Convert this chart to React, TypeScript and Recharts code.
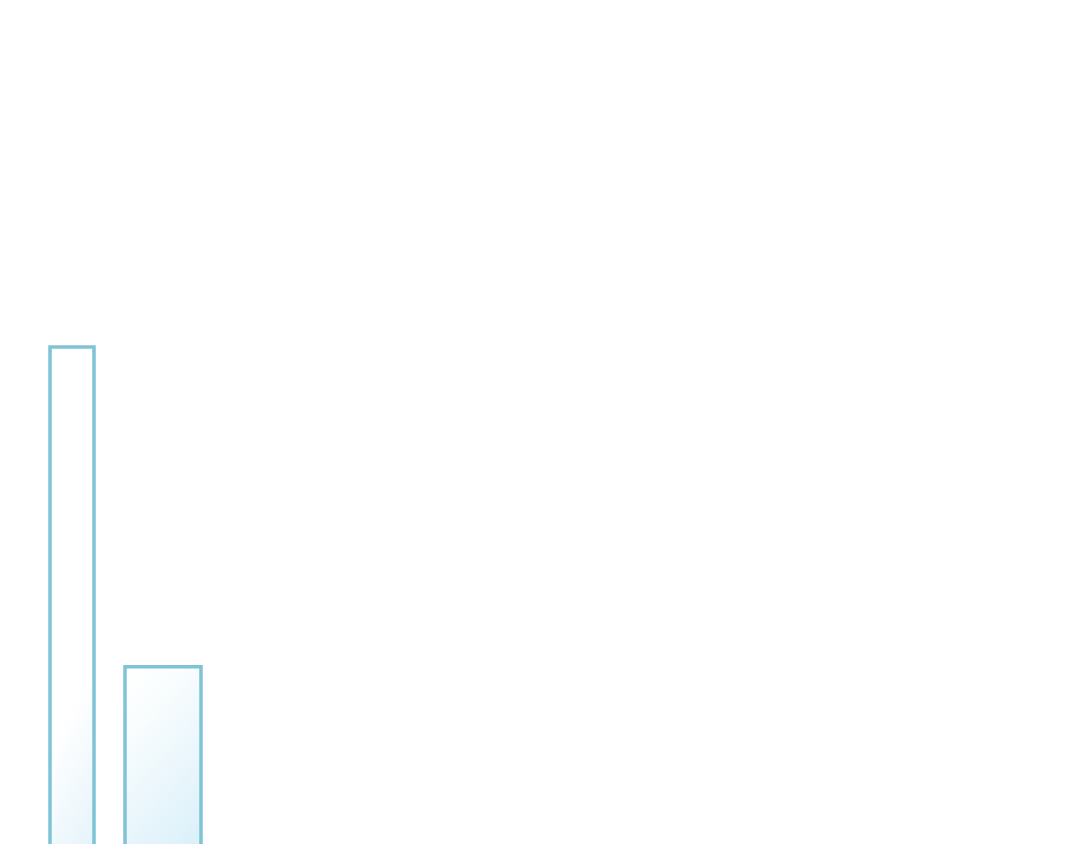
import React from 'react';
import { BarChart, Bar, XAxis, YAxis } from 'recharts';

// two columns, the rest of the canvas is empty
const categories = ['A', 'B'];
const firstValues = [250, null];
const secondValues = [null, 108];

const data = categories.map((name, i) => ({
  name,
  first: firstValues[i],
  second: secondValues[i],
}));

const STROKE = '#7fc4d6';

const App: React.FC = () => {
  return (
    <div style={{ width: 1064, height: 902 }}>
      <BarChart
        width={1064}
        height={902}
        data={data}
        margin={{ top: 1, right: 864, left: 18, bottom: 0 }}
      >
        <defs>
          <linearGradient id="fillFirst" x1="0" y1="0" x2="0.15" y2="1">
            <stop offset="0%" stopColor="#ffffff" />
            <stop offset="70%" stopColor="#ffffff" />
            <stop offset="100%" stopColor="#e6f4fb" />
          </linearGradient>
          <linearGradient id="fillSecond" x1="0" y1="0" x2="0.35" y2="1">
            <stop offset="0%" stopColor="#ffffff" />
            <stop offset="25%" stopColor="#f9fdfe" />
            <stop offset="100%" stopColor="#d9eff9" />
          </linearGradient>
        </defs>
        <XAxis xAxisId="a" dataKey="name" hide />
        <XAxis xAxisId="b" dataKey="name" hide />
        <YAxis hide domain={[0, 400]} />
        <Bar
          xAxisId="a"
          dataKey="first"
          barSize={44}
          fill="url(#fillFirst)"
          stroke={STROKE}
          strokeWidth={3.5}
          isAnimationActive={false}
        />
        <Bar
          xAxisId="b"
          dataKey="second"
          barSize={76}
          fill="url(#fillSecond)"
          stroke={STROKE}
          strokeWidth={3.5}
          isAnimationActive={false}
        />
      </BarChart>
    </div>
  );
};

export default App;
